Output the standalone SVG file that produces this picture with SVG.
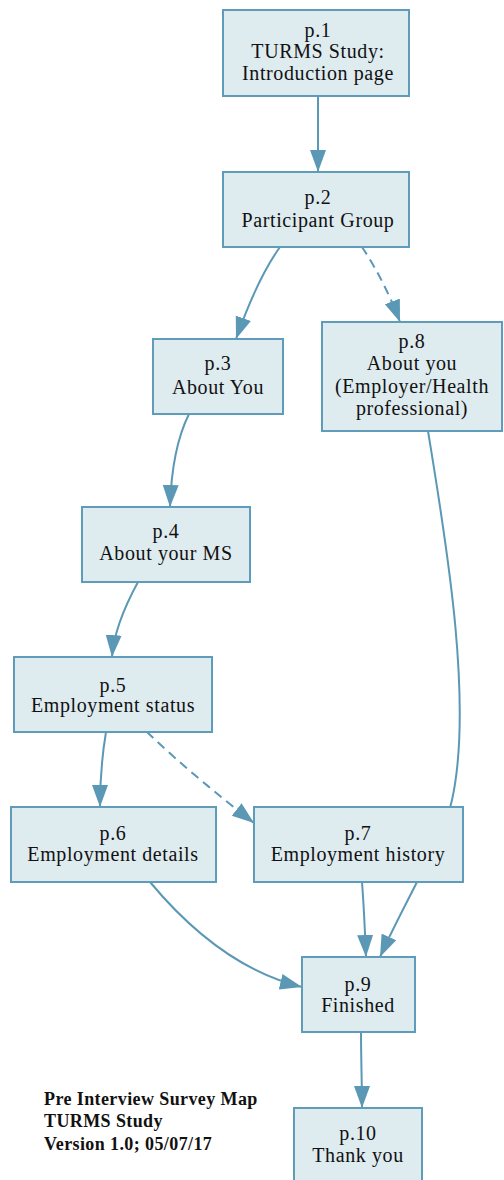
<svg xmlns="http://www.w3.org/2000/svg" width="504" height="1180" viewBox="0 0 504 1180">
  <style>
    .node rect { fill: #deebef; stroke: #5e9cb9; stroke-width: 2; }
    .node text { font-family: "Liberation Serif", "Times New Roman", serif; font-size: 20px; letter-spacing: 0.6px; fill: #111; text-anchor: middle; }
    .edge { fill: none; stroke: #5b98b6; stroke-width: 2; }
    .dash { stroke-dasharray: 9 6; }
    .note { font-family: "Liberation Serif", "Times New Roman", serif; font-size: 18px; font-weight: bold; letter-spacing: 0.4px; fill: #111; }
  </style>
  <defs>
    <marker id="arrow" markerUnits="userSpaceOnUse" markerWidth="24" markerHeight="18" viewBox="0 0 24 18" refX="22" refY="9" orient="auto">
      <path d="M0,1 L22,9 L0,17 Z" fill="#5b98b6"/>
    </marker>
  </defs>
  <rect width="504" height="1180" fill="#ffffff"/>

  <!-- connectors -->
  <g id="edges">
    <path class="edge" d="M318,96 L318,172" marker-end="url(#arrow)"/>
    <path class="edge" d="M280,247 C262,272 248,305 236,339" marker-end="url(#arrow)"/>
    <path class="edge dash" d="M362,247 C376,268 390,295 400,322" marker-end="url(#arrow)"/>
    <path class="edge" d="M189,414 C176,440 171,475 170,507" marker-end="url(#arrow)"/>
    <path class="edge" d="M138,582 C126,604 114,630 112,657" marker-end="url(#arrow)"/>
    <path class="edge" d="M106,732 C102,756 100,782 100,807" marker-end="url(#arrow)"/>
    <path class="edge dash" d="M147,732 C178,762 218,795 254,823" marker-end="url(#arrow)"/>
    <path class="edge" d="M428,431 C444,530 474,700 452,800 C444,835 428,862 417,882 C406,904 392,930 380,957" marker-end="url(#arrow)"/>
    <path class="edge" d="M150,882 C190,930 240,972 302,987" marker-end="url(#arrow)"/>
    <path class="edge" d="M362,882 C364,908 365,932 366,957" marker-end="url(#arrow)"/>
    <path class="edge" d="M361,1032 C361,1058 362,1084 362,1108" marker-end="url(#arrow)"/>
  </g>

  <g id="p1" class="node">
    <rect x="223" y="10" width="186" height="86"/>
    <text x="318" y="37">p.1</text>
    <text x="318" y="58">TURMS Study:</text>
    <text x="318" y="80">Introduction page</text>
  </g>
  <g id="p2" class="node">
    <rect x="223" y="172" width="186" height="75"/>
    <text x="318" y="204">p.2</text>
    <text x="318" y="227">Participant Group</text>
  </g>
  <g id="p3" class="node">
    <rect x="153" y="339" width="130" height="75"/>
    <text x="218" y="370">p.3</text>
    <text x="218" y="394">About You</text>
  </g>
  <g id="p8" class="node">
    <rect x="322" y="322" width="180" height="109"/>
    <text x="412" y="348">p.8</text>
    <text x="412" y="370">About you</text>
    <text x="412" y="393">(Employer/Health</text>
    <text x="412" y="415">professional)</text>
  </g>
  <g id="p4" class="node">
    <rect x="82" y="507" width="168" height="75"/>
    <text x="166" y="538">p.4</text>
    <text x="166" y="560">About your MS</text>
  </g>
  <g id="p5" class="node">
    <rect x="14" y="657" width="198" height="75"/>
    <text x="113" y="692">p.5</text>
    <text x="113" y="712">Employment status</text>
  </g>
  <g id="p6" class="node">
    <rect x="11" y="807" width="205" height="75"/>
    <text x="113" y="840">p.6</text>
    <text x="113" y="861">Employment details</text>
  </g>
  <g id="p7" class="node">
    <rect x="254" y="807" width="209" height="75"/>
    <text x="358" y="840">p.7</text>
    <text x="358" y="861">Employment history</text>
  </g>
  <g id="p9" class="node">
    <rect x="302" y="957" width="113" height="75"/>
    <text x="358" y="991">p.9</text>
    <text x="358" y="1012">Finished</text>
  </g>
  <g id="p10" class="node">
    <rect x="294" y="1108" width="128" height="80"/>
    <text x="358" y="1140">p.10</text>
    <text x="358" y="1162">Thank you</text>
  </g>

  <g id="legend">
    <text class="note" x="44" y="1105">Pre Interview Survey Map</text>
    <text class="note" x="44" y="1127">TURMS Study</text>
    <text class="note" x="44" y="1150">Version 1.0; 05/07/17</text>
  </g>
</svg>
